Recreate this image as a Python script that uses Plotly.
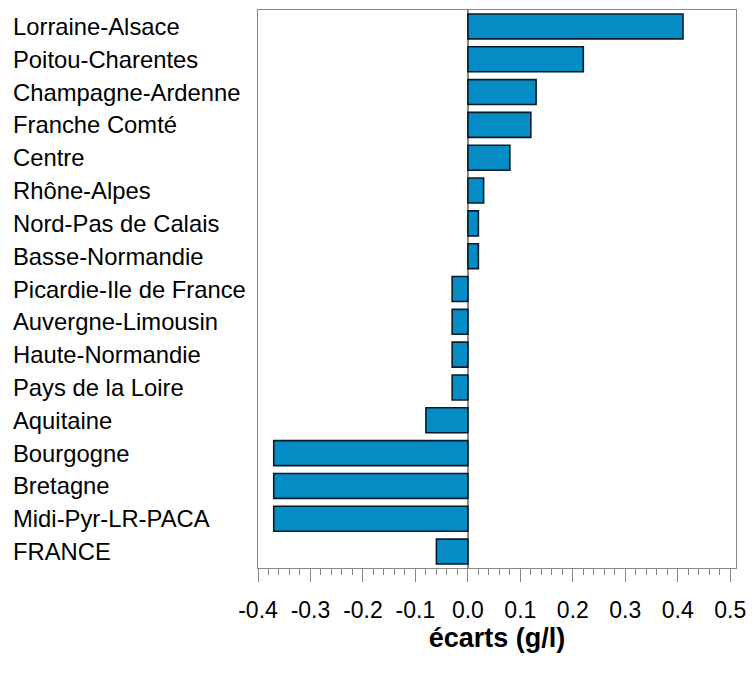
import plotly.graph_objects as go

regions = ["Lorraine-Alsace", "Poitou-Charentes", "Champagne-Ardenne", "Franche Comté",
           "Centre", "Rhône-Alpes", "Nord-Pas de Calais", "Basse-Normandie",
           "Picardie-Ile de France", "Auvergne-Limousin", "Haute-Normandie",
           "Pays de la Loire", "Aquitaine", "Bourgogne", "Bretagne",
           "Midi-Pyr-LR-PACA", "FRANCE"]
ecarts = [0.41, 0.22, 0.13, 0.12, 0.08, 0.03, 0.02, 0.02,
          -0.03, -0.03, -0.03, -0.03, -0.08, -0.37, -0.37, -0.37, -0.06]
tick_vals = [-0.4, -0.3, -0.2, -0.1, 0.0, 0.1, 0.2, 0.3, 0.4, 0.5]
tick_text = ["-0.4", "-0.3", "-0.2", "-0.1", "0.0", "0.1", "0.2", "0.3", "0.4", "0.5"]

FONT = "Liberation Sans, Arial, sans-serif"
GREY = "#8a8680"

fig = go.Figure()
fig.add_trace(go.Bar(
    x=ecarts, y=regions, orientation="h",
    marker=dict(color="#068cc4", line=dict(color="#0a1a28", width=1.6)),
    hoverinfo="x+y",
))

annotations = []
for r in regions:
    annotations.append(dict(
        x=-0.516, xref="paper", y=r, yref="y", text=r, showarrow=False,
        xanchor="left", yanchor="middle",
        font=dict(family=FONT, size=23.8, color="black"),
    ))

fig.update_layout(
    width=755, height=677,
    margin=dict(l=258, r=12, t=9, b=109),
    paper_bgcolor="white", plot_bgcolor="white",
    bargap=0.24,
    showlegend=False,
    annotations=annotations,
    font=dict(family=FONT, size=23, color="black"),
    xaxis=dict(
        range=[-0.4, 0.511],
        tickvals=tick_vals, ticktext=tick_text,
        ticks="outside", ticklen=13, tickwidth=1.2, tickcolor=GREY,
        minor=dict(ticks="outside", ticklen=6, tickwidth=1, tickcolor=GREY, dtick=0.02, tick0=-0.4),
        showgrid=False,
        zeroline=True, zerolinecolor=GREY, zerolinewidth=1.5,
        showline=True, linecolor=GREY, linewidth=1.3, mirror=True,
        tickfont=dict(family=FONT, size=23, color="black"),
        ticklabelstandoff=8,
        title=dict(text="<b>écarts (g/l)</b>", font=dict(family=FONT, size=27, color="black"), standoff=6),
    ),
    yaxis=dict(
        autorange="reversed",
        showticklabels=False, ticks="",
        showgrid=False, zeroline=False,
        showline=True, linecolor=GREY, linewidth=1.3, mirror=True,
    ),
)

# remove the page's default 8px body margin so the figure fills the window exactly
fig.write_html(
    "out.html",
    config={"displayModeBar": False},
    post_script="document.body.style.margin='0px';document.body.style.overflow='hidden';",
)
